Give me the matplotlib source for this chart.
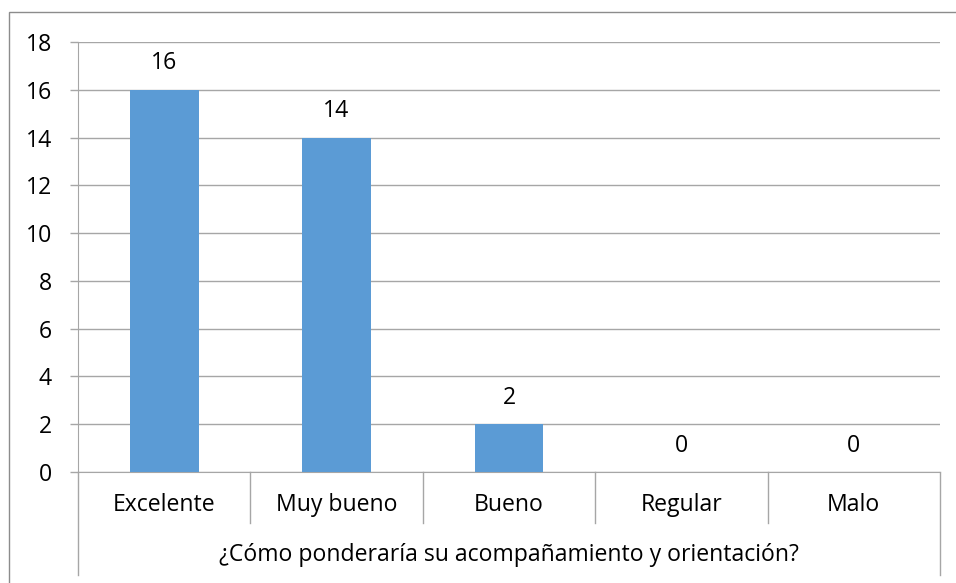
import matplotlib
matplotlib.use("Agg")
import matplotlib.pyplot as plt
from matplotlib.patches import Rectangle
from matplotlib.lines import Line2D

# ---- data ----
categories = ["Excelente", "Muy bueno", "Bueno", "Regular", "Malo"]
values = [16, 14, 2, 0, 0]
group_label = "¿Cómo ponderaría su acompañamiento y orientación?"
y_ticks = [0, 2, 4, 6, 8, 10, 12, 14, 16, 18]

BAR_COLOR = "#5B9BD5"
GRID_COLOR = "#A6A6A6"
BORDER_COLOR = "#8C8C8C"
FONT = "Open Sans"
FS = 16.6

W, H = 956, 583
fig = plt.figure(figsize=(W / 100, H / 100), dpi=100)

# outer chart border (right/bottom edge fall outside the picture)
fig.patches.append(Rectangle((9 / W, -0.05), 1.2, 1 - 12 / H + 0.05,
                             transform=fig.transFigure, fill=False,
                             edgecolor=BORDER_COLOR, linewidth=1.0))

left, right, top, bottom = 78, 940, 42, 472
ax = fig.add_axes([left / W, (H - bottom) / H, (right - left) / W, (bottom - top) / H])

x = list(range(len(categories)))
ax.bar(x, values, width=0.4, color=BAR_COLOR, zorder=3)

ax.set_xlim(-0.5, len(categories) - 0.5)
ax.set_ylim(0, 18)
ax.set_yticks(y_ticks)
ax.set_yticklabels([str(t) for t in y_ticks], fontsize=FS, fontfamily=FONT)
ax.grid(axis="y", color=GRID_COLOR, linewidth=1.0, zorder=0)
ax.tick_params(axis="y", length=5.8, color=GRID_COLOR, width=1.0, pad=13)
ax.set_xticks([])

for s in ["top", "right"]:
    ax.spines[s].set_visible(False)
ax.spines["left"].set_color(GRID_COLOR)
ax.spines["bottom"].set_color(GRID_COLOR)

# data labels
for xi, v in zip(x, values):
    ax.annotate(str(v), (xi, v), xytext=(0, 19), textcoords="offset points",
                ha="center", va="center", fontsize=FS, fontfamily=FONT)

# category axis: dividers, labels and group label
trans = ax.get_xaxis_transform()
ph = bottom - top
div_end = -(523 - bottom) / ph
grp_end = -(575 - bottom) / ph
for k in range(len(categories) + 1):
    end = grp_end if k in (0, len(categories)) else div_end
    ax.add_line(Line2D([k - 0.5, k - 0.5], [0, end], transform=trans,
                       color=GRID_COLOR, linewidth=1.0, clip_on=False))
for xi, c in zip(x, categories):
    ax.text(xi, -(505 - bottom) / ph, c, transform=trans, ha="center", va="center",
            fontsize=FS, fontfamily=FONT)
ax.text(0.5, -(555 - bottom) / ph, group_label, transform=ax.transAxes,
        ha="center", va="center", fontsize=FS, fontfamily=FONT)

fig.savefig("out.png", dpi=100)
